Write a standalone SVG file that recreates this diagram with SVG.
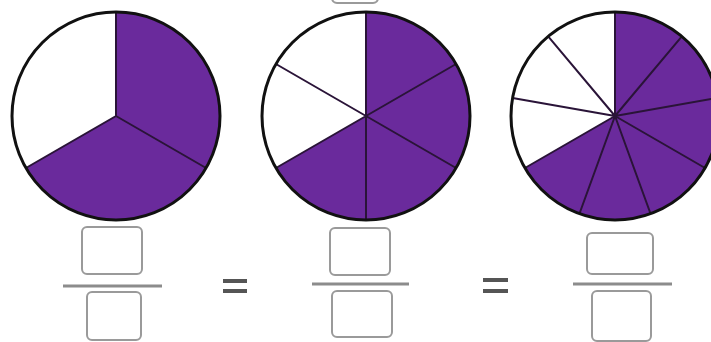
<svg xmlns="http://www.w3.org/2000/svg" width="711" height="342" viewBox="0 0 711 342">
<style>
.pie{fill:#6a2a9c}
.wh{fill:#ffffff}
.div{stroke:#2a1438;stroke-width:2;fill:none}
.rim{fill:none;stroke:#111;stroke-width:3}
.box{fill:#fff;stroke:#9a9a9a;stroke-width:2}
.bar{stroke:#8c8c8c;stroke-width:3}
.eq{stroke:#555;stroke-width:4}
</style>
<rect width="711" height="342" fill="#fff"/>
<g id="pie1">
<circle class="pie" cx="116" cy="116" r="104"/>
<path class="wh" d="M116,116 L116,12 A104,104 0 0 0 25.93,168 Z"/>
<path class="div" d="M116,12 L116,116 L25.93,168 M116,116 L206.07,168"/>
<circle class="rim" cx="116" cy="116" r="104"/>
</g>
<g id="pie2">
<circle class="pie" cx="366" cy="116" r="104"/>
<path class="wh" d="M366,116 L366,12 A104,104 0 0 0 275.93,168 Z"/>
<path class="div" d="M366,116 L366,12 M366,116 L456.07,64 M366,116 L456.07,168 M366,116 L366,220 M366,116 L275.93,168 M366,116 L275.93,64"/>
<circle class="rim" cx="366" cy="116" r="104"/>
</g>
<g id="pie3">
<circle class="pie" cx="615" cy="116" r="104"/>
<path class="wh" d="M615,116 L615,12 A104,104 0 0 0 524.93,168 Z"/>
<path class="div" d="M615,116 L615,12 M615,116 L681.85,36.33 M615,116 L717.42,97.94 M615,116 L705.07,168 M615,116 L650.57,213.73 M615,116 L579.43,213.73 M615,116 L524.93,168 M615,116 L548.15,36.33 M615,116 L512.58,97.94"/>
<circle class="rim" cx="615" cy="116" r="104"/>
</g>
<g id="topbox">
<rect class="box" x="332" y="-45" width="46" height="48" rx="5"/>
</g>
<g id="frac1">
<rect class="box" x="82" y="227" width="60" height="47" rx="5"/>
<line class="bar" x1="63" y1="286" x2="162" y2="286"/>
<rect class="box" x="87" y="292" width="54" height="48" rx="5"/>
</g>
<g id="eq1">
<line class="eq" x1="223" y1="281" x2="247" y2="281"/>
<line class="eq" x1="223" y1="291" x2="247" y2="291"/>
</g>
<g id="frac2">
<rect class="box" x="330" y="228" width="60" height="47" rx="5"/>
<line class="bar" x1="312" y1="284" x2="409" y2="284"/>
<rect class="box" x="332" y="291" width="60" height="46" rx="5"/>
</g>
<g id="eq2">
<line class="eq" x1="483" y1="280" x2="508" y2="280"/>
<line class="eq" x1="483" y1="291" x2="508" y2="291"/>
</g>
<g id="frac3">
<rect class="box" x="587" y="233" width="66" height="41" rx="5"/>
<line class="bar" x1="573" y1="284" x2="672" y2="284"/>
<rect class="box" x="592" y="291" width="59" height="50" rx="5"/>
</g>
</svg>
